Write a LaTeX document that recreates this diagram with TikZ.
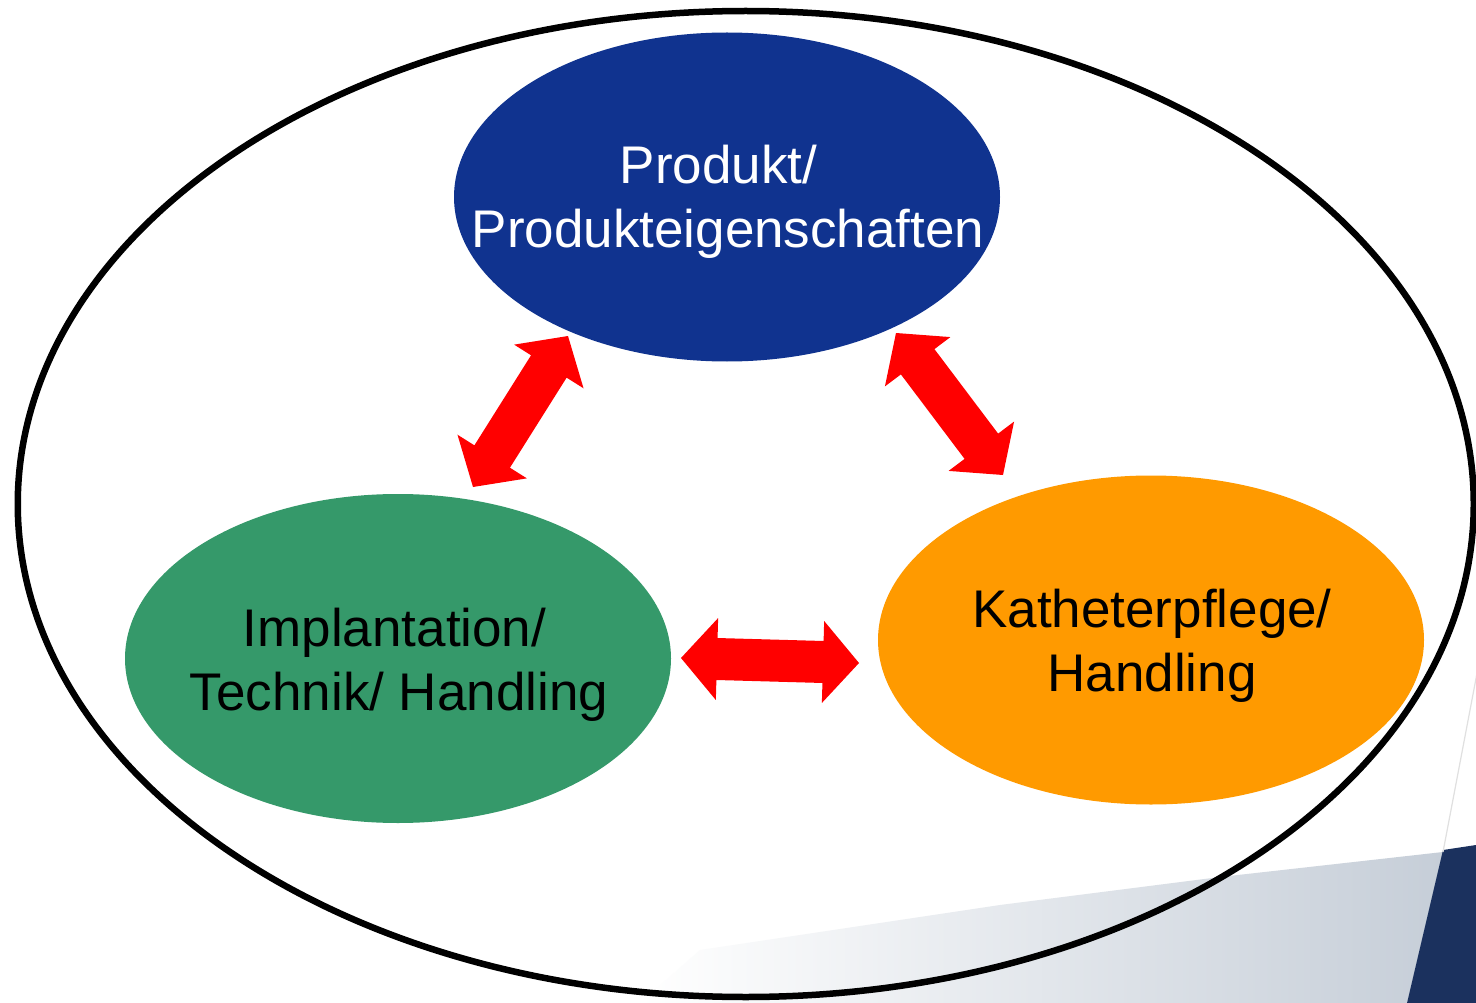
\documentclass[tikz,border=0pt]{standalone}
\usepackage{fontspec}
\setmainfont{Liberation Sans}
\usetikzlibrary{calc,shapes.geometric}
\definecolor{prodblue}{RGB}{16,51,143}
\definecolor{implgreen}{RGB}{53,153,106}
\definecolor{kathorange}{RGB}{255,154,0}
\definecolor{navyband}{RGB}{27,49,94}
\definecolor{greyshade}{RGB}{198,206,216}
\newcommand\dblredarrow[3]{%
  \coordinate (#3h1) at ($(#1)!36pt!(#2)$);
  \coordinate (#3h2) at ($(#2)!36pt!(#1)$);
  \fill[red] (#1) -- ($(#3h1)!41pt!90:(#2)$) -- ($(#3h1)!21pt!90:(#2)$)
    -- ($(#3h2)!21pt!-90:(#1)$) -- ($(#3h2)!41pt!-90:(#1)$) -- (#2)
    -- ($(#3h2)!41pt!90:(#1)$) -- ($(#3h2)!21pt!90:(#1)$)
    -- ($(#3h1)!21pt!-90:(#2)$) -- ($(#3h1)!41pt!-90:(#2)$) -- cycle;}
\begin{document}
\begin{tikzpicture}[x=1pt,y=-1pt,
  blob/.style={ellipse, inner sep=0pt, minimum width=546pt, minimum height=329pt},
  lbl/.style={align=center, inner sep=0pt, font=\fontsize{53}{64}\selectfont}]
\useasboundingbox (0,0) rectangle (1476,1003);
\fill[white] (0,0) rectangle (1476,1003);
% background decoration
\shade[left color=white, right color=greyshade]
  (1443,852) -- (1220,877) -- (1000,905) -- (700,950) -- (640,1003) -- (1407,1003) -- cycle;
\fill[navyband] (1443,850) -- (1476,845) -- (1476,1003) -- (1407,1003) -- cycle;
\draw[line width=1.2pt, black!12] (1443,852) -- (1478,668);
% outer ellipse
\draw[line width=6.5pt] (745.75,504) ellipse [x radius=728pt, y radius=493pt];
% ellipses
\node[blob, fill=prodblue] (prod) at (727,197) {};
\node[blob, fill=implgreen] (impl) at (398,658.5) {};
\node[blob, fill=kathorange] (kath) at (1151,640) {};
% labels
\node[lbl, text=white] (prodtxt) at (728,202) {Produkt/\hspace*{19pt}\\Produkteigenschaften};
\node[lbl, text=black] (impltxt) at (399,665) {Implantation/\hspace*{9pt}\\Technik/ Handling};
\node[lbl, text=black] (kathtxt) at (1152,646) {Katheterpflege/\\Handling};
% arrows
\coordinate (a1s) at (473,487);
\coordinate (a1e) at (568,336);
\coordinate (a2s) at (896,333);
\coordinate (a2e) at (1003,475);
\coordinate (a3s) at (681,658);
\coordinate (a3e) at (859,663);
\dblredarrow{a1s}{a1e}{ar1}
\dblredarrow{a2s}{a2e}{ar2}
\dblredarrow{a3s}{a3e}{ar3}
\end{tikzpicture}
\end{document}
